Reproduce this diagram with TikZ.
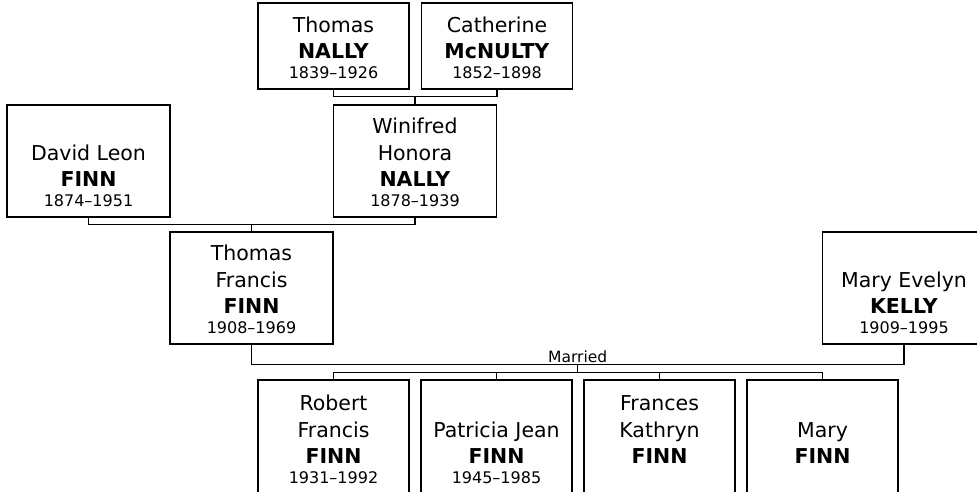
\documentclass[tikz,border=0pt]{standalone}
\usepackage{fontspec}
\setmainfont{DejaVu Sans}
\usepackage{tikz}
\usetikzlibrary{
  calc,
  positioning
}

\newcommand\namefont{\fontsize{20.5}{26.5}\selectfont}
\newcommand\datefont{\fontsize{16}{20}\selectfont}
\newcommand\topline{\rule{0pt}{24.5pt}}
\newcommand\yrs[1]{\\[-6.5pt]{\datefont\strut #1}}

\begin{document}
\begin{tikzpicture}[x=1pt, y=-1pt,
  person/.style={draw, line width=1.2pt, align=center, inner sep=0pt,
    minimum width=151pt, minimum height=112pt, font=\namefont},
  elder/.style={person, minimum height=86pt},
  wide/.style={person, minimum width=163pt},
  child/.style={person, minimum height=116pt},
  link/.style={line width=1.2pt}]
\useasboundingbox (0,0) rectangle (977,491);
\clip (0,0) rectangle (977,491);

% grandparents and parents
\node[elder] (thomasN) at (333.5,46) {\topline Thomas\\\textbf{NALLY}\yrs{1839--1926}};
\node[elder] (catherine) at (497,46) {\topline Catherine\\\textbf{McNULTY}\yrs{1852--1898}};
\node[wide] (david) at (88.5,161) {\topline\\David Leon\\\textbf{FINN}\yrs{1874--1951}};
\node[wide] (winifred) at (415,161) {\topline Winifred\\Honora\\\textbf{NALLY}\yrs{1878--1939}};
\node[wide] (thomasF) at (251.5,288) {\topline Thomas\\Francis\\\textbf{FINN}\yrs{1908--1969}};
\node[wide] (maryE) at (904,288) {\topline\\Mary Evelyn\\\textbf{KELLY}\yrs{1909--1995}};

% children
\node[child] (robert) at (333.5,438) {\topline Robert\\Francis\\\textbf{FINN}\yrs{1931--1992}};
\node[child] (patricia) at (496.5,438) {\topline\\Patricia Jean\\\textbf{FINN}\yrs{1945--1985}};
\node[child] (frances) at (659.5,438) {\topline Frances\\Kathryn\\\textbf{FINN}\yrs{}};
\node[child] (mary) at (822.5,438) {\topline\\Mary\\\textbf{FINN}\yrs{}};

% family lines
\coordinate (nally) at ($(thomasN.south)!.5!(catherine.south)+(0,7)$);
\draw[link] (thomasN.south) |- (nally) -| (catherine.south);
\draw[link] (winifred.north) -- (winifred.north |- nally);

\coordinate (finn) at ($(david.south)!.5!(winifred.south)+(0,7)$);
\draw[link] (david.south) |- (finn) -| (winifred.south);
\draw[link] (thomasF.north) -- (thomasF.north |- finn);

\coordinate (wed) at ($(thomasF.south)!.5!(maryE.south)+(0,20)$);
\draw[link] (thomasF.south) |- (wed) -| (maryE.south);
\node[above=1pt of wed, inner sep=1pt, font=\fontsize{15.5}{18}\selectfont] (married) {Married};

\coordinate (kids) at ($(wed)+(0,8)$);
\draw[link] (wed) -- (kids);
\draw[link] (robert.north) |- (kids) -| (mary.north);
\draw[link] (patricia.north) -- (patricia.north |- kids);
\draw[link] (frances.north) -- (frances.north |- kids);
\end{tikzpicture}
\end{document}
